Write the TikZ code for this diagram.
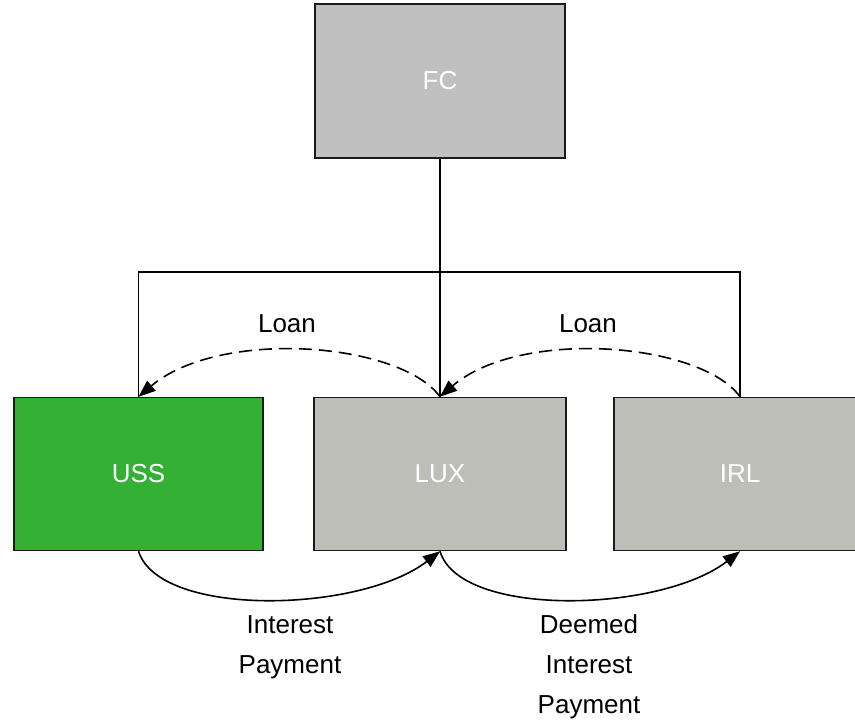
\documentclass[tikz,border=0pt]{standalone}
\usepackage{fontspec}
\setmainfont{Liberation Sans}
\usetikzlibrary{arrows.meta}
\definecolor{boxgreen}{HTML}{34B034}
\definecolor{boxgray}{HTML}{BEBEB9}
\definecolor{topgray}{HTML}{C0C0C0}
\definecolor{edgeline}{HTML}{1A1A1A}
\begin{document}
\begin{tikzpicture}[x=1pt,y=-1pt,
  entity/.style={draw=edgeline,line width=1.6pt,minimum width=250pt,minimum height=153pt,
    inner sep=0pt,text=white,font=\fontsize{26}{40}\selectfont},
  tag/.style={align=center,inner sep=0pt,font=\fontsize{26}{40}\selectfont},
  wire/.style={line width=1.6pt,black},
  tip/.style={-{Triangle[length=17pt,width=13pt]}},
  flow/.style={wire,tip},
  loanflow/.style={wire,tip,dash pattern=on 13pt off 7pt}
]
\clip (0,0) rectangle (855,720);
\fill[white] (0,0) rectangle (855,720);

% entities
\node[entity,fill=topgray,minimum width=250pt,minimum height=154pt] (fc) at (440,81) {FC};
\node[entity,fill=boxgreen,minimum width=249pt] (uss) at (138.5,474) {USS};
\node[entity,fill=boxgray,minimum width=252pt] (lux) at (440,474) {LUX};
\node[entity,fill=boxgray,minimum width=252pt] (irl) at (740,474) {IRL};

% ownership lines
\coordinate (bus) at (440,272);
\draw[wire] (fc.south) -- (lux.north);
\draw[wire] (uss.north) -- (uss.north |- bus) -- (irl.north |- bus) -- (irl.north);

% loans
\draw[loanflow] (lux.north) .. controls (400,342) and (220,328) .. (uss.north);
\draw[loanflow] (irl.north) .. controls (700,342) and (520,328) .. (lux.north);
\node[tag] (loanA) at (287,324) {Loan};
\node[tag] (loanB) at (588,324) {Loan};

% interest payments
\draw[flow] (uss.south) .. controls (160,618) and (360,613) .. (lux.south);
\draw[flow] (lux.south) .. controls (460,618) and (660,613) .. (irl.south);
\node[tag] (intpay) at (290,647) {Interest\\Payment};
\node[tag] (deemed) at (589,667) {Deemed\\Interest\\Payment};
\end{tikzpicture}
\end{document}
